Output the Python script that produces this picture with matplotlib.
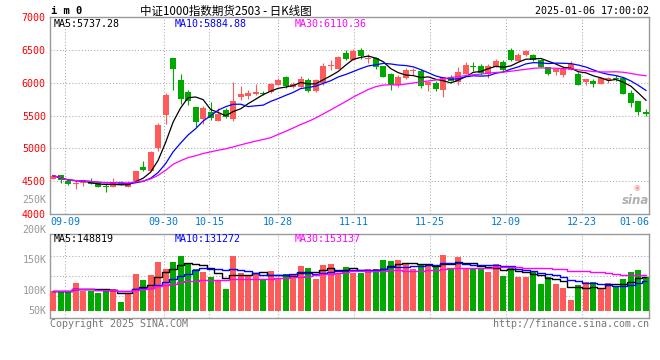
import numpy as np
import pandas as pd
import matplotlib
matplotlib.use("Agg")
import matplotlib.pyplot as plt
from matplotlib.transforms import blended_transform_factory

# IM2503 daily candles, 80 sessions (2024-09-05 .. 2025-01-06)
opens = [4531, 4592, 4505, 4460, 4464, 4495, 4474, 4425, 4413, 4490,
         4413, 4500, 4714, 4658, 5000, 5510, 6382, 6045, 5857, 5632,
         5449, 5561, 5423, 5586, 5449, 5775, 5794, 5825, 5845, 5855,
         5972, 6084, 5937, 5942, 6048, 5871, 5997, 6261, 6216, 6449,
         6353, 6505, 6368, 6378, 6256, 6135, 5972, 6074, 6180, 6175,
         5962, 5992, 5886, 6094, 6008, 6140, 6251, 6261, 6140, 6241,
         6317, 6505, 6338, 6419, 6429, 6343, 6246, 6165, 6124, 6201,
         6140, 6008, 6033, 5982, 6043, 6079, 6079, 5840, 5724, 5551]
highs = [4590, 4595, 4510, 4515, 4490, 4540, 4480, 4455, 4550, 4505,
         4500, 4655, 4806, 4955, 5382, 5841, 6385, 6137, 5892, 5635,
         5648, 5709, 5612, 5612, 6005, 5954, 5896, 5982, 5871, 6000,
         6074, 6099, 6018, 6104, 6074, 6052, 6302, 6343, 6402, 6500,
         6520, 6530, 6440, 6389, 6260, 6150, 6114, 6226, 6226, 6211,
         6020, 6023, 6092, 6124, 6236, 6312, 6317, 6287, 6287, 6368,
         6353, 6530, 6454, 6505, 6440, 6368, 6248, 6226, 6251, 6327,
         6165, 6060, 6058, 6071, 6094, 6124, 6094, 5891, 5726, 5602]
lows = [4525, 4475, 4440, 4372, 4430, 4450, 4410, 4337, 4403, 4445,
        4408, 4498, 4658, 4655, 4959, 5372, 5892, 5673, 5663, 5331,
        5367, 5433, 5420, 5464, 5418, 5739, 5759, 5810, 5810, 5845,
        5970, 5921, 5921, 5932, 5866, 5866, 5972, 6190, 6214, 6343,
        6350, 6368, 6302, 6216, 6084, 5896, 5937, 6063, 6114, 5921,
        5871, 5881, 5784, 6023, 5972, 6138, 6185, 6124, 6074, 6240,
        6175, 6327, 6336, 6404, 6327, 6236, 6124, 6114, 6084, 6200,
        5970, 5972, 5942, 5980, 5992, 6023, 5833, 5637, 5510, 5485]
closes = [4582, 4515, 4450, 4475, 4480, 4455, 4413, 4410, 4480, 4455,
          4449, 4653, 4668, 4944, 5357, 5816, 6214, 5750, 5724, 5408,
          5617, 5459, 5525, 5474, 5724, 5831, 5850, 5866, 5825, 5987,
          6048, 5947, 5977, 6063, 5881, 6048, 6261, 6277, 6398, 6368,
          6490, 6404, 6378, 6241, 6094, 5962, 6094, 6201, 6196, 5947,
          6010, 5911, 6089, 6033, 6160, 6277, 6241, 6150, 6251, 6338,
          6201, 6353, 6429, 6480, 6353, 6241, 6140, 6216, 6226, 6287,
          5972, 6058, 5987, 6069, 6079, 6063, 5835, 5688, 5546, 5530]
# volume in thousands of lots
volumes = [88.8, 88.8, 88.8, 124, 88.8, 88.8, 80, 96, 96, 39,
           80, 161.6, 137, 157, 214, 185, 214, 240, 204, 185,
           170, 148, 131, 96, 240, 166, 154, 166, 134, 175,
           146, 162, 157, 196.5, 189, 141, 201, 205, 166, 192,
           166, 166, 185, 185, 223, 218, 223, 204, 185, 204,
           204, 191, 244.5, 188, 236, 185, 185, 185, 170, 205,
           154, 192, 148.5, 148.5, 169, 118, 147, 118, 102, 48,
           113.5, 125, 127, 99, 122, 109, 140, 169, 179, 147]

tick_idx = [2, 15, 21, 30, 40, 50, 60, 70, 79]
tick_labels = ["09-09", "09-30", "10-15", "10-28", "11-11",
               "11-25", "12-09", "12-23", "01-06"]
price_ticks = [4000, 4500, 5000, 5500, 6000, 6500, 7000]
ma_text = ["MA5:5737.28", "MA10:5884.88", "MA30:6110.36"]
vol_ma_text = ["MA5:148819", "MA10:131272", "MA30:153137"]
vol_labels = ["250K", "200K", "150K", "100K", "50K"]

RED = "#ff5a5a"
GREEN = "#00a800"
MA_COLORS = ["black", "#0000ff", "#ff00ff"]
GRIDC = "#aaaaaa"
BORDER = "#999999"
MONO = "DejaVu Sans Mono"

W, H = 660, 360


def box(l, t, r, b):
    return [l / W, 1 - b / H, (r - l) / W, (b - t) / H]


def ftext(x, y, s, **kw):
    fig.text(x / W, 1 - y / H, s, va="center", **kw)


fig = plt.figure(figsize=(W / 100, H / 100), dpi=100)
fig.patch.set_facecolor("white")

ax = fig.add_axes(box(50, 17.3, 649, 213.7))
axv = fig.add_axes(box(50, 234, 649, 318))

x = np.arange(len(closes))
o = np.array(opens, float)
c = np.array(closes, float)
colors = [RED if cc >= oo else GREEN for oo, cc in zip(o, c)]

# candles
ax.vlines(x, lows, highs, colors=colors, lw=0.8, zorder=3)
body = np.maximum(np.abs(c - o), 15)
ax.bar(x, body, bottom=np.minimum(o, c), width=0.8, color=colors,
       linewidth=0, zorder=4)

s = pd.Series(c)
for n, col in zip([5, 10, 30], MA_COLORS):
    ax.plot(x, s.rolling(n, min_periods=1).mean(), color=col, lw=0.9, zorder=5)

# volume
axv.bar(x, volumes, width=0.8, color=colors, linewidth=0, zorder=3)
sv = pd.Series(volumes)
for n, col in zip([5, 10, 30], MA_COLORS):
    axv.plot(x, sv.rolling(n, min_periods=1).mean(), color=col, lw=1.0,
             drawstyle="steps-mid", zorder=5)

# grid positions (sina spaces its date grid slightly wider than the candles)
grid_x = [1.6 + (i - 2) * 1.0125 for i in tick_idx[:-1]]

for a in (ax, axv):
    a.set_xlim(-0.4, 79.4)
    a.set_xticks(grid_x)
    a.tick_params(axis="both", length=0, labelbottom=False)
    a.set_axisbelow(True)
    a.grid(True, color=GRIDC, lw=0.75, linestyle=(0, (1, 2)))
    for sp in a.spines.values():
        sp.set_color(BORDER)
        sp.set_linewidth(1.0)

ax.set_ylim(4000, 7000)
ax.set_yticks(price_ticks)
ax.set_yticklabels([str(p) for p in price_ticks], color="red",
                   fontsize=7.2, family=MONO)
ax.tick_params(axis="y", pad=3)

axv.set_ylim(-30.6, 336.2)
axv.set_yticks([(311 - y) / 0.229 for y in (256, 276, 296)])
axv.set_yticklabels([])

# date labels
tr = blended_transform_factory(ax.transData, ax.transAxes)
for g, lab in zip(grid_x, tick_labels[:-1]):
    ax.text(g, -0.04, lab, transform=tr, ha="center", va="center",
            fontsize=7.2, family=MONO, color="#0078d7")
ax.text(1.0, -0.04, tick_labels[-1], transform=ax.transAxes, ha="right",
        va="center", fontsize=7.2, family=MONO, color="#0078d7")

# volume axis labels (sina prints them at fixed rows)
for lab, y in zip(vol_labels, [200, 230, 260, 291, 311]):
    ftext(46.5, y, lab, ha="right", fontsize=7.2, family=MONO, color="#999999")

# legends
for t, col, xp in zip(ma_text, MA_COLORS, [54, 175, 295]):
    ftext(xp, 24, t, ha="left", fontsize=7.2, family=MONO, color=col)
for t, col, xp in zip(vol_ma_text, MA_COLORS, [54, 175, 295]):
    ftext(xp, 239, t, ha="left", fontsize=7.2, family=MONO, color=col)

# header
ftext(51, 11.5, "i m 0", ha="left", fontsize=7.5, family=MONO,
      weight="bold", color="black")
ftext(140, 11.5, "中证1000指数期货2503 - 日K线图", ha="left", fontsize=8.3,
      family=["Noto Sans CJK SC", "DejaVu Sans"], color="black")
ftext(649, 11.5, "2025-01-06 17:00:02", ha="right", fontsize=7.2,
      family=MONO, color="black")

# footer
ftext(50, 324, "Copyright 2025 SINA.COM", ha="left", fontsize=7.2,
      family=MONO, color="#777777")
ftext(649, 324, "http://finance.sina.com.cn", ha="right", fontsize=7.2,
      family=MONO, color="#777777")

# watermark
ftext(637, 187, "\u25c9", ha="center", fontsize=5.5, color="#f3a0a0")
ftext(636, 201, "sina", ha="center", fontsize=8.5, style="italic",
      weight="bold", color="#b0b0b0")

fig.savefig("out.png", dpi=100)
